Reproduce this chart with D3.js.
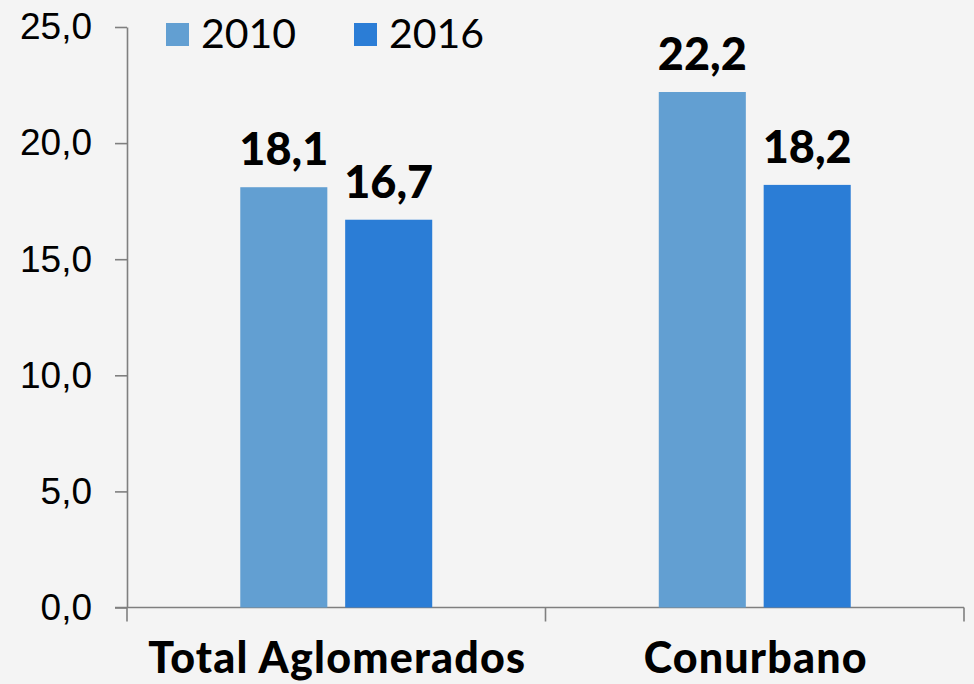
<!DOCTYPE html>
<html>
<head>
<meta charset="utf-8">
<script src="https://cdn.jsdelivr.net/npm/d3@7"></script>
<style>
  body { margin: 0; background: #f4f4f4; }
  svg { display: block; font-family: Lato, "Open Sans", sans-serif; }
  .axis path, .axis line { stroke: #7f7f7f; stroke-width: 1.6; }
  .axis text { fill: #000; font-size: 37px; }
</style>
</head>
<body>
<script>
const categories = ["Total Aglomerados", "Conurbano"];
const series = ["2010", "2016"];
const values2010 = [18.1, 22.2];
const values2016 = [16.7, 18.2];
const yTicks = [0, 5, 10, 15, 20, 25];
const colors = ["#629fd2", "#2b7dd6"];

const width = 974, height = 684;
const margin = { top: 27, right: 10, bottom: 76, left: 127 };

const rows = [];
categories.forEach(function (c, i) {
  rows.push({ cat: c, year: "2010", value: values2010[i] });
  rows.push({ cat: c, year: "2016", value: values2016[i] });
});

const svg = d3.select("body").append("svg")
  .attr("width", width)
  .attr("height", height);

svg.append("rect").attr("width", width).attr("height", height).attr("fill", "#f4f4f4");

const x0 = d3.scaleBand().domain(categories).range([margin.left, width - margin.right]).padding(0);
const x1 = d3.scaleBand().domain(series).range([0, x0.bandwidth()])
  .paddingInner(0.17).paddingOuter(1.08);
const y = d3.scaleLinear().domain([0, 25]).range([height - margin.bottom - 0.5, margin.top]);
const color = d3.scaleOrdinal().domain(series).range(colors);

// y axis
svg.append("g")
  .attr("class", "axis")
  .attr("transform", "translate(" + margin.left + ",0)")
  .call(d3.axisLeft(y).tickValues(yTicks).tickSize(12).tickSizeOuter(0)
    .tickPadding(23).tickFormat(function (d) { return d3.format(".1f")(d).replace(".", ","); }));

// x axis
const xAxis = svg.append("g")
  .attr("class", "axis")
  .attr("transform", "translate(0," + y(0) + ")");
xAxis.append("line")
  .attr("x1", margin.left - 12).attr("x2", width - margin.right)
  .attr("y1", 0).attr("y2", 0);
const edges = [margin.left].concat(categories.map(function (c) { return x0(c) + x0.bandwidth(); }));
xAxis.selectAll(".xt").data(edges).enter().append("line")
  .attr("x1", function (d) { return d; }).attr("x2", function (d) { return d; })
  .attr("y1", 0).attr("y2", 14);

// bars
svg.selectAll(".bar").data(rows).enter().append("rect")
  .attr("class", "bar")
  .attr("x", function (d) { return x0(d.cat) + x1(d.year); })
  .attr("width", x1.bandwidth())
  .attr("y", function (d) { return y(d.value); })
  .attr("height", function (d) { return y(0) - y(d.value); })
  .attr("fill", function (d) { return color(d.year); });

// value labels
svg.selectAll(".val").data(rows).enter().append("text")
  .attr("class", "val")
  .attr("x", function (d) { return x0(d.cat) + x1(d.year) + x1.bandwidth() / 2; })
  .attr("y", function (d) { return y(d.value) - 22; })
  .attr("text-anchor", "middle")
  .style("font-size", "45px")
  .style("font-weight", "900")
  .text(function (d) { return d3.format(".1f")(d.value).replace(".", ","); });

// category labels
svg.selectAll(".cat").data(categories).enter().append("text")
  .attr("class", "cat")
  .attr("x", function (d) { return x0(d) + x0.bandwidth() / 2 + 1; })
  .attr("y", 673)
  .attr("text-anchor", "middle")
  .style("font-size", "43px")
  .style("font-weight", "900")
  .style("letter-spacing", "1.2px")
  .text(function (d) { return d; });

// legend
const legendX = [166, 354];
const legend = svg.selectAll(".leg").data(series).enter().append("g")
  .attr("class", "leg")
  .attr("transform", function (d, i) { return "translate(" + legendX[i] + ",23)"; });
legend.append("rect").attr("width", 23).attr("height", 23)
  .attr("fill", function (d) { return color(d); });
legend.append("text")
  .attr("x", 35).attr("y", 25)
  .style("font-size", "41px")
  .text(function (d) { return d; });
</script>
</body>
</html>
